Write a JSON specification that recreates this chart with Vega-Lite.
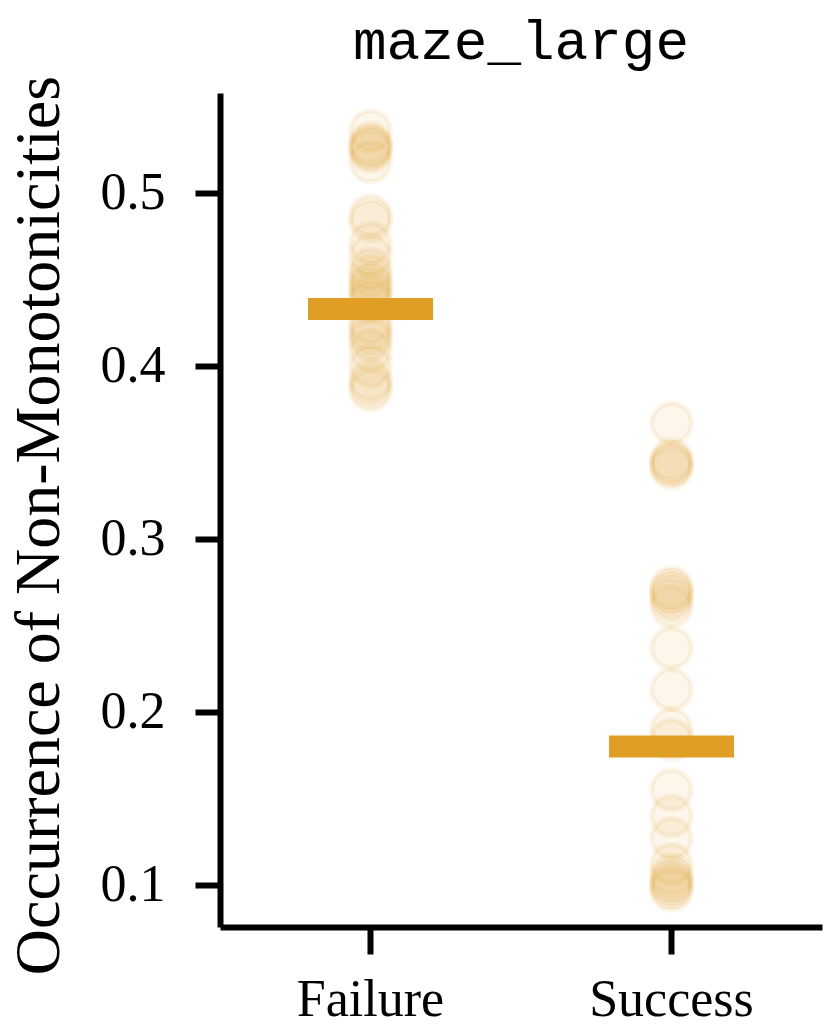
{
  "$schema": "https://vega.github.io/schema/vega-lite/v6.json",
  "width": 602,
  "height": 834,
  "autosize": "none",
  "padding": {"left": 220, "top": 93, "right": 8, "bottom": 106},
  "background": "white",
  "title": {
    "text": "maze_large",
    "font": "Liberation Mono",
    "fontSize": 56,
    "fontWeight": "normal",
    "color": "black",
    "baseline": "alphabetic",
    "offset": 38,
    "dy": 78,
    "anchor": "middle"
  },
  "config": {
    "view": {"stroke": null},
    "axis": {
      "domainColor": "black",
      "domainWidth": 6,
      "tickColor": "black",
      "tickWidth": 6,
      "grid": false,
      "labelColor": "black",
      "labelFont": "Liberation Serif",
      "labelFontSize": 52,
      "titleFont": "Liberation Serif",
      "titleFontWeight": "normal",
      "titleColor": "black"
    }
  },
  "datasets": {
    "points": [
      {"outcome": "Failure", "value": 0.536},
      {"outcome": "Failure", "value": 0.529},
      {"outcome": "Failure", "value": 0.527},
      {"outcome": "Failure", "value": 0.526},
      {"outcome": "Failure", "value": 0.524},
      {"outcome": "Failure", "value": 0.518},
      {"outcome": "Failure", "value": 0.487},
      {"outcome": "Failure", "value": 0.484},
      {"outcome": "Failure", "value": 0.471},
      {"outcome": "Failure", "value": 0.464},
      {"outcome": "Failure", "value": 0.456},
      {"outcome": "Failure", "value": 0.452},
      {"outcome": "Failure", "value": 0.448},
      {"outcome": "Failure", "value": 0.446},
      {"outcome": "Failure", "value": 0.443},
      {"outcome": "Failure", "value": 0.44},
      {"outcome": "Failure", "value": 0.437},
      {"outcome": "Failure", "value": 0.425},
      {"outcome": "Failure", "value": 0.421},
      {"outcome": "Failure", "value": 0.418},
      {"outcome": "Failure", "value": 0.415},
      {"outcome": "Failure", "value": 0.409},
      {"outcome": "Failure", "value": 0.4},
      {"outcome": "Failure", "value": 0.392},
      {"outcome": "Failure", "value": 0.389},
      {"outcome": "Failure", "value": 0.386},
      {"outcome": "Success", "value": 0.367},
      {"outcome": "Success", "value": 0.346},
      {"outcome": "Success", "value": 0.344},
      {"outcome": "Success", "value": 0.343},
      {"outcome": "Success", "value": 0.341},
      {"outcome": "Success", "value": 0.272},
      {"outcome": "Success", "value": 0.27},
      {"outcome": "Success", "value": 0.268},
      {"outcome": "Success", "value": 0.265},
      {"outcome": "Success", "value": 0.261},
      {"outcome": "Success", "value": 0.237},
      {"outcome": "Success", "value": 0.213},
      {"outcome": "Success", "value": 0.19},
      {"outcome": "Success", "value": 0.184},
      {"outcome": "Success", "value": 0.155},
      {"outcome": "Success", "value": 0.14},
      {"outcome": "Success", "value": 0.127},
      {"outcome": "Success", "value": 0.112},
      {"outcome": "Success", "value": 0.106},
      {"outcome": "Success", "value": 0.103},
      {"outcome": "Success", "value": 0.101},
      {"outcome": "Success", "value": 0.099},
      {"outcome": "Success", "value": 0.097}
    ],
    "summary": [
      {"outcome": "Failure", "value": 0.433},
      {"outcome": "Success", "value": 0.18}
    ]
  },
  "encoding": {
    "x": {
      "field": "outcome",
      "type": "nominal",
      "sort": ["Failure", "Success"],
      "scale": {"type": "band", "paddingInner": 0, "paddingOuter": 0},
      "axis": {
        "title": null,
        "labelAngle": 0,
        "tickSize": 27,
        "labelPadding": 61,
        "labelBaseline": "alphabetic"
      }
    },
    "y": {
      "field": "value",
      "type": "quantitative",
      "scale": {"domain": [0.0757, 0.5578], "nice": false, "zero": false},
      "axis": {
        "title": "Occurrence of Non-Monotonicities",
        "titleFontSize": 64,
        "values": [0.1, 0.2, 0.3, 0.4, 0.5],
        "format": ".1f",
        "tickSize": 25,
        "labelPadding": 30,
        "titleX": -162,
        "titleY": 432,
        "titleAngle": -90,
        "titleAlign": "center",
        "titleBaseline": "alphabetic"
      }
    }
  },
  "layer": [
    {
      "data": {"name": "points"},
      "mark": {
        "type": "circle",
        "size": 1590,
        "color": "#E09E24",
        "fillOpacity": 0.09,
        "stroke": "#E09E24",
        "strokeOpacity": 0.1,
        "strokeWidth": 5
      }
    },
    {
      "data": {"name": "summary"},
      "mark": {
        "type": "tick",
        "orient": "horizontal",
        "size": 125,
        "thickness": 22,
        "color": "#E09E24",
        "opacity": 1
      }
    }
  ]
}
